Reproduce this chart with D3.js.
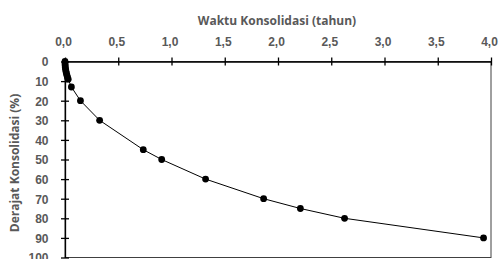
<!DOCTYPE html>
<html>
<head>
<meta charset="utf-8">
<script src="https://cdn.jsdelivr.net/npm/d3@7"></script>
<style>
  body { margin: 0; background: #fff; }
  svg { display: block; font-family: "Open Sans", sans-serif; }
  .tick text { fill: #595959; font-weight: bold; font-size: 12px; }
</style>
</head>
<body>
<div class="container"></div>
<script>
var svgWidth = 503;
var svgHeight = 259;

// waktu (tahun) vs derajat konsolidasi (%)
var waktu = [0, 0.0004, 0.0015, 0.003, 0.006, 0.009, 0.013, 0.018, 0.023, 0.03, 0.06, 0.145, 0.325, 0.735, 0.908, 1.32, 1.865, 2.21, 2.625, 3.93];
var derajat = [0, 1, 2, 3, 4, 5, 6, 7, 8, 9, 13, 20, 30, 45, 50, 60, 70, 75, 80, 90];
var xTicks = [0, 0.5, 1, 1.5, 2, 2.5, 3, 3.5, 4];
var yTicks = [0, 10, 20, 30, 40, 50, 60, 70, 80, 90, 100];

var chartMargin = { top: 61.5, left: 65, right: 12, bottom: 1.5 };

var svg = d3.select(".container")
    .append("svg")
    .attr("width", svgWidth)
    .attr("height", svgHeight);

var chartGroup = svg.append("g")
    .attr("transform", `translate(${chartMargin.left}, ${chartMargin.top})`);

var xScale = d3.scaleLinear().domain([0, 4]).range([0, 426]);
var yScale = d3.scaleLinear().domain([0, 100]).range([0, 196]);

// frame
chartGroup.append("rect")
    .attr("x", xScale(0))
    .attr("y", yScale(0))
    .attr("width", xScale(4) - xScale(0))
    .attr("height", yScale(100) - yScale(0))
    .attr("fill", "none")
    .attr("stroke", "#404040")
    .attr("stroke-width", 1);

var topAxis = d3.axisTop(xScale)
    .tickValues(xTicks)
    .tickFormat(d => d3.format(".1f")(d).replace(".", ","))
    .tickSizeInner(4)
    .tickSizeOuter(0)
    .tickPadding(11.5);

var leftAxis = d3.axisLeft(yScale)
    .tickValues(yTicks)
    .tickSizeInner(4)
    .tickSizeOuter(0)
    .tickPadding(12.5);

var gx = chartGroup.append("g").call(topAxis);
var gy = chartGroup.append("g").call(leftAxis);

[gx, gy].forEach(g => {
    g.select(".domain").attr("stroke", "#000").attr("stroke-width", 1.3);
    g.selectAll(".tick line").attr("stroke", "#000").attr("stroke-width", 1.3);
});
// ticks cross the axis
gx.selectAll(".tick line").attr("y1", 4).attr("y2", -4);
gy.selectAll(".tick line").attr("x1", 4).attr("x2", -4);
gx.selectAll(".tick text").attr("dy", "0").attr("dx", -2);
gy.selectAll(".tick text").attr("dy", "0.36em");

var points = waktu.map((t, i) => ({ t: t, u: derajat[i] }));

var line = d3.line()
    .x(d => xScale(d.t))
    .y(d => yScale(d.u));

chartGroup.append("path")
    .datum(points)
    .attr("d", line)
    .attr("fill", "none")
    .attr("stroke", "#000")
    .attr("stroke-width", 1);

chartGroup.selectAll(".dot")
    .data(points)
    .enter()
    .append("circle")
    .attr("class", "dot")
    .attr("cx", d => xScale(d.t))
    .attr("cy", d => yScale(d.u))
    .attr("r", 3.4)
    .attr("fill", "#000");

svg.append("text")
    .attr("x", chartMargin.left + 212)
    .attr("y", 25)
    .attr("text-anchor", "middle")
    .attr("fill", "#595959")
    .attr("font-weight", "bold")
    .attr("font-size", "12px")
    .text("Waktu Konsolidasi (tahun)");

svg.append("text")
    .attr("transform", "translate(19, 163) rotate(-90)")
    .attr("text-anchor", "middle")
    .attr("fill", "#595959")
    .attr("font-weight", "bold")
    .attr("font-size", "12px")
    .text("Derajat Konsolidasi (%)");
</script>
</body>
</html>
